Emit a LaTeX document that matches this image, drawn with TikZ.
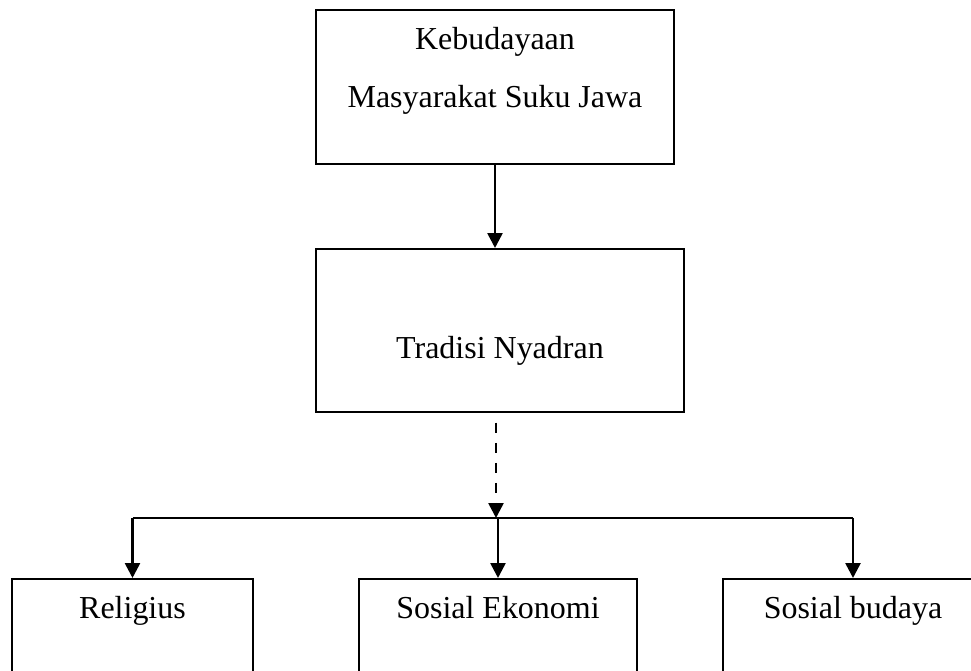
\documentclass[tikz,border=0pt]{standalone}
\usepackage{fontspec}
\setmainfont{Liberation Serif}
\usetikzlibrary{arrows.meta}

\begin{document}
\begin{tikzpicture}[x=0.02cm,y=-0.02cm,
  box/.style={draw,line width=1pt,rectangle,anchor=north,inner xsep=0pt,inner ysep=0pt,
    align=center,font=\fontsize{18.2}{33}\selectfont},
  arr/.style={-{Triangle[length=8.5pt,width=8.5pt]},line width=1.5pt}]
  \clip (0,0) rectangle (971,671);
  \node[box,minimum width=7.16cm,text height=1.96cm,text depth=1.12cm] (budaya) at (495,9)
    {Kebudayaan\\Masyarakat Suku Jawa};
  \node[box,minimum width=7.36cm,text height=2.2cm,text depth=1.06cm] (tradisi) at (500,248)
    {Tradisi Nyadran};
  \node[box,minimum width=4.82cm,text height=0.8cm,text depth=2.2cm] (religius) at (132.5,578)
    {Religius};
  \node[box,minimum width=5.56cm,text height=0.8cm,text depth=2.2cm] (ekonomi) at (498,578)
    {Sosial Ekonomi};
  \node[box,minimum width=5.2cm,text height=0.8cm,text depth=2.2cm] (sosbud) at (853,578)
    {Sosial budaya};
  \coordinate (hub) at (496,518);

  \draw[arr] (budaya.south) -- (budaya.south |- tradisi.north);
  \draw[arr,dash pattern=on 5.7pt off 5.7pt,dash phase=5.7pt] (tradisi.south -| hub) -- (hub);
  \draw[line width=1pt] (hub -| religius.north) -- (hub -| sosbud.north);
  \foreach \n in {religius,ekonomi,sosbud}
    \draw[arr] (hub -| \n.north) -- (\n.north);
\end{tikzpicture}
\end{document}
